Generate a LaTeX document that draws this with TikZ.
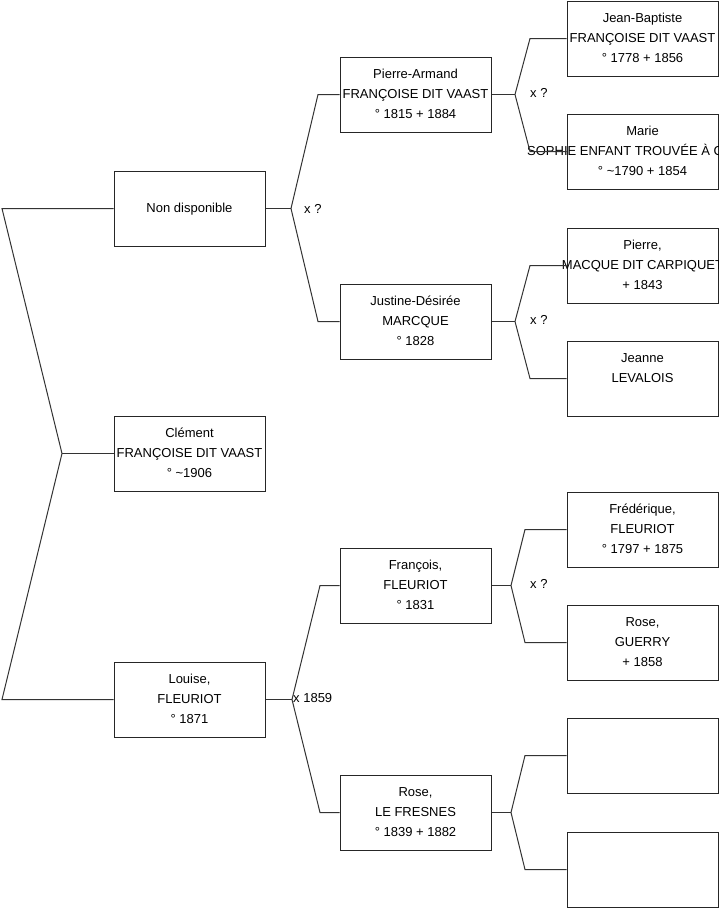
\documentclass[tikz,border=0pt]{standalone}
\usepackage{fontspec}
\setmainfont{Liberation Sans}
\begin{document}
\begin{tikzpicture}[x=1pt,y=-1pt,
  box/.style={draw=black!85,line width=1pt,minimum width=151pt,minimum height=75pt,inner sep=0pt},
  txt/.style={inner sep=0pt,align=center,font=\fontsize{13}{20}\selectfont},
  lbl/.style={inner sep=0pt,anchor=west,font=\fontsize{13}{20}\selectfont},
  conn/.style={draw=black!80,line width=1pt,line join=miter}]
\clip (0,0) rectangle (719,908);
\fill[white] (0,0) rectangle (719,908);
% generation 1
\node[box] (nd) at (189.5,208.5) {};
\node[txt] (ndt) at (nd) {\strut Non disponible};
\node[box] (cl) at (189.5,453.5) {};
\node[txt] (clt) at (cl) {\strut Clément\\\strut FRANÇOISE DIT VAAST\\\strut ° \textasciitilde1906};
\node[box] (lo) at (189.5,699.5) {};
\node[txt] (lot) at (lo) {\strut Louise,\\\strut FLEURIOT\\\strut ° 1871};
% generation 2
\node[box] (pa) at (415.5,94.5) {};
\node[txt] (pat) at (pa) {\strut Pierre-Armand\\\strut FRANÇOISE DIT VAAST\\\strut ° 1815 + 1884};
\node[box] (jd) at (415.5,321.5) {};
\node[txt] (jdt) at (jd) {\strut Justine-Désirée\\\strut MARCQUE\\\strut ° 1828};
\node[box] (fr) at (415.5,585.5) {};
\node[txt] (frt) at (fr) {\strut François,\\\strut FLEURIOT\\\strut ° 1831};
\node[box] (ro) at (415.5,812.5) {};
\node[txt] (rot) at (ro) {\strut Rose,\\\strut LE FRESNES\\\strut ° 1839 + 1882};
% generation 3
\node[box] (jb) at (642.5,38.5) {};
\node[txt] (jbt) at (jb) {\strut Jean-Baptiste\\\strut FRANÇOISE DIT VAAST\\\strut ° 1778 + 1856};
\node[box] (ma) at (642.5,151.5) {};
\node[txt] (mat) at (ma) {\strut Marie\\\strut\\\strut ° \textasciitilde1790 + 1854};
\node[inner sep=0pt,anchor=base west,font=\fontsize{13}{20}\selectfont] (mat2) at (527,155.5) {SOPHIE ENFANT TROUVÉE À C};
\node[box] (pi) at (642.5,265.5) {};
\node[txt] (pit) at (pi) {\strut Pierre,\\\strut MACQUE DIT CARPIQUET\\\strut + 1843};
\node[box] (je) at (642.5,378.5) {};
\node[txt] (jet) at (je) {\strut Jeanne\\\strut LEVALOIS\\\strut};
\node[box] (fe) at (642.5,529.5) {};
\node[txt] (fet) at (fe) {\strut Frédérique,\\\strut FLEURIOT\\\strut ° 1797 + 1875};
\node[box] (gu) at (642.5,642.5) {};
\node[txt] (gut) at (gu) {\strut Rose,\\\strut GUERRY\\\strut + 1858};
\node[box] (e1) at (642.5,755.5) {};
\node[box] (e2) at (642.5,869.5) {};
% left bracket
\coordinate (L1) at (2,208.5);
\coordinate (Lv) at (62,453.5);
\coordinate (L2) at (2,699.5);
\draw[conn] (nd.west) -- (L1) -- (Lv) -- (L2) -- (lo.west);
\draw[conn] (Lv) -- (cl.west);
% fork Non disponible
\coordinate (v1) at (291,208.5);
\coordinate (v1a) at (318,94.5);
\coordinate (v1b) at (318,321.5);
\draw[conn] (nd.east) -- (v1);
\draw[conn] (pa.west) -- (v1a) -- (v1) -- (v1b) -- (jd.west);
\node[lbl] (x1) at (304,208.5) {x ?};
% fork Louise
\coordinate (v2) at (292,699.5);
\coordinate (v2a) at (320,585.5);
\coordinate (v2b) at (320,812.5);
\draw[conn] (lo.east) -- (v2);
\draw[conn] (fr.west) -- (v2a) -- (v2) -- (v2b) -- (ro.west);
\node[lbl] (x2) at (293,698) {x 1859};
% fork Pierre-Armand
\coordinate (v3) at (515,94.5);
\coordinate (v3a) at (530,38.5);
\coordinate (v3b) at (530,151.5);
\draw[conn] (pa.east) -- (v3);
\draw[conn] (jb.west) -- (v3a) -- (v3) -- (v3b) -- (ma.west);
\node[lbl] (x3) at (530,92.5) {x ?};
% fork Justine
\coordinate (v4) at (515,321.5);
\coordinate (v4a) at (530,265.5);
\coordinate (v4b) at (530,378.5);
\draw[conn] (jd.east) -- (v4);
\draw[conn] (pi.west) -- (v4a) -- (v4) -- (v4b) -- (je.west);
\node[lbl] (x4) at (530,319.5) {x ?};
% fork François
\coordinate (v5) at (511,585.5);
\coordinate (v5a) at (525,529.5);
\coordinate (v5b) at (525,642.5);
\draw[conn] (fr.east) -- (v5);
\draw[conn] (fe.west) -- (v5a) -- (v5) -- (v5b) -- (gu.west);
\node[lbl] (x5) at (530,583.5) {x ?};
% fork Rose
\coordinate (v6) at (511,812.5);
\coordinate (v6a) at (525,755.5);
\coordinate (v6b) at (525,869.5);
\draw[conn] (ro.east) -- (v6);
\draw[conn] (e1.west) -- (v6a) -- (v6) -- (v6b) -- (e2.west);
\end{tikzpicture}
\end{document}
